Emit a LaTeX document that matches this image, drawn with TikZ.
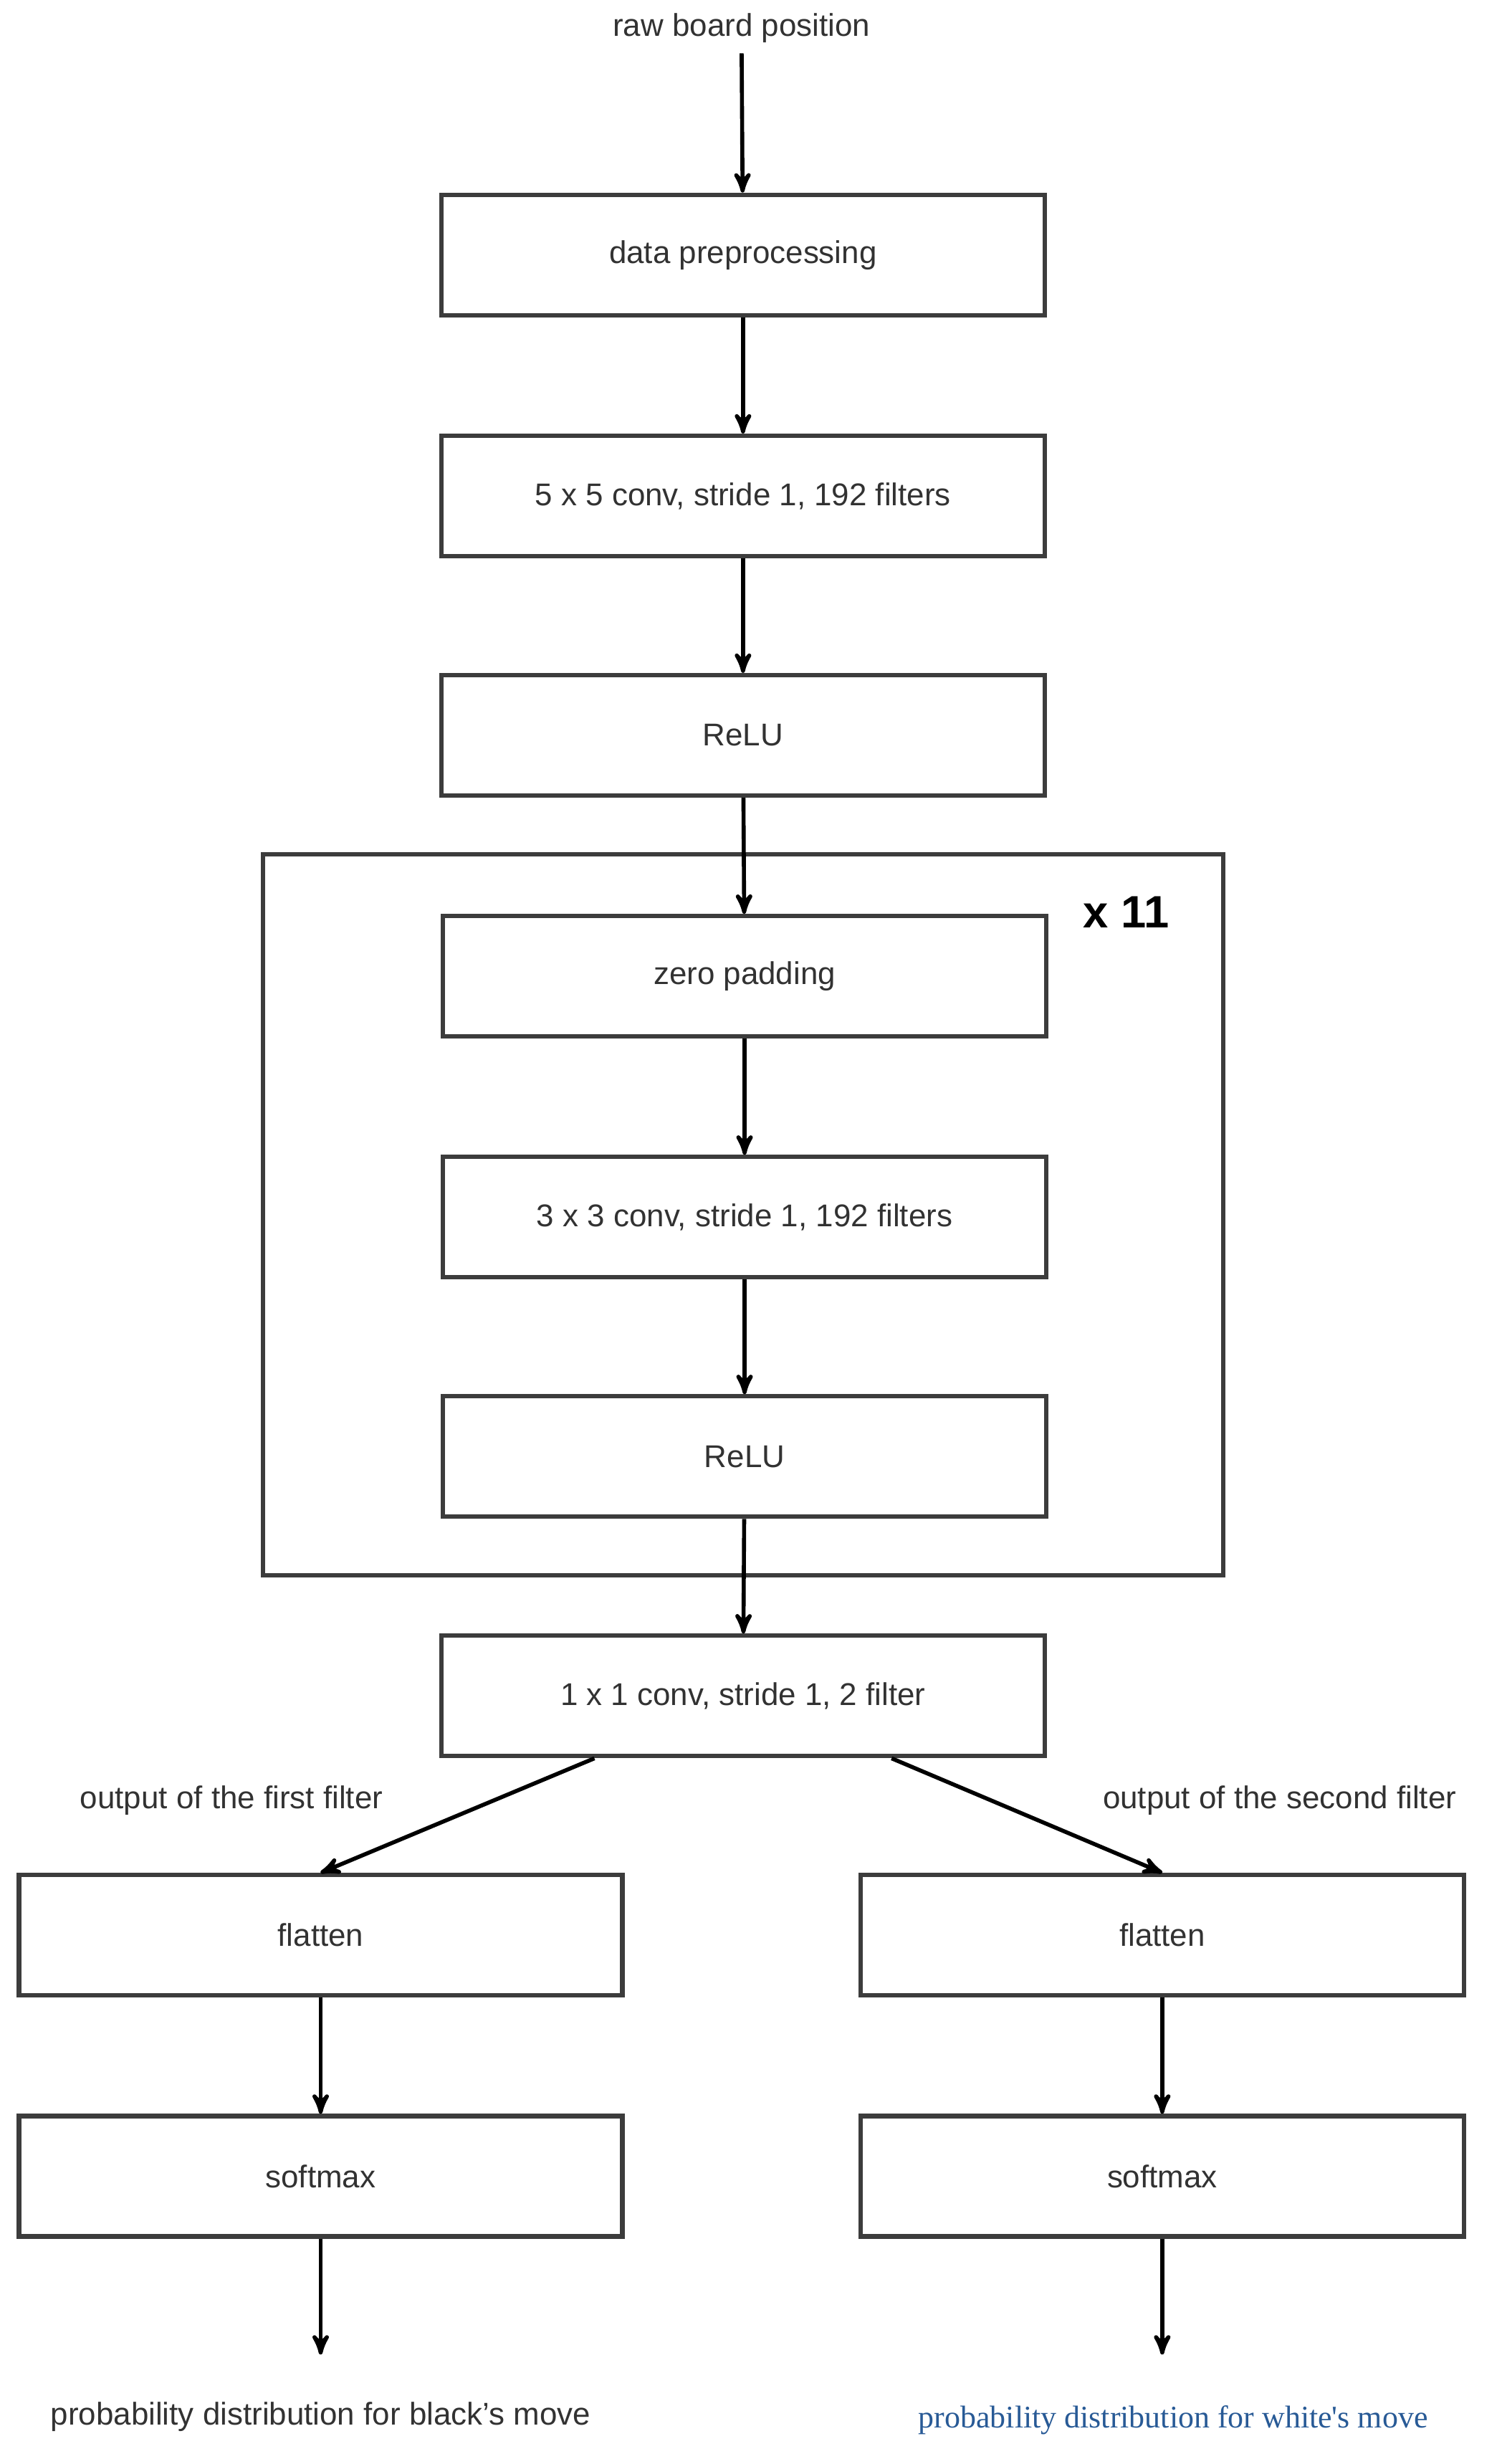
\documentclass[tikz,border=0pt]{standalone}
\usepackage{fontspec}
\setmainfont{Liberation Sans}
\newfontfamily\serifface{Liberation Serif}
\usetikzlibrary{arrows}
\definecolor{boxline}{RGB}{60,60,60}
\definecolor{txtgrey}{RGB}{50,50,50}
\definecolor{bluetxt}{RGB}{40,90,150}

\begin{document}
\begin{tikzpicture}[x=0.02183cm,y=-0.02183cm,->,>=stealth',line width=1.6pt,
    font=\fontsize{12.5}{15}\selectfont]
        \tikzstyle{layer}=[draw=boxline,line width=1.8pt,minimum width=8.42cm,minimum height=1.68cm,text=txtgrey]
        \tikzstyle{lbl}=[text=txtgrey]
        \useasboundingbox (0,0) rectangle (960,1575);

        \node[lbl]   (input)  at (474,18)   {raw board position};
        \node[layer] (prep)   at (475,163)  {data preprocessing};
        \node[layer] (conv5)  at (475,317)  {5 x 5 conv, stride 1, 192 filters};
        \node[layer] (relu1)  at (475,470)  {ReLU};
        \draw[-,line width=1.8pt,draw=boxline] (168,546) rectangle (782,1007);
        \node[font=\fontsize{18}{20}\selectfont\bfseries] (rep) at (720,583) {x 11};
        \node[layer] (zpad)   at (476,624)  {zero padding};
        \node[layer] (conv3)  at (476,778)  {3 x 3 conv, stride 1, 192 filters};
        \node[layer] (relu2)  at (476,931)  {ReLU};
        \node[layer] (conv1)  at (475,1084) {1 x 1 conv, stride 1, 2 filter};
        \node[lbl]   (outA)   at (148,1151) {output of the first filter};
        \node[lbl]   (outB)   at (818,1151) {output of the second filter};
        \node[layer] (flatA)  at (205,1237) {flatten};
        \node[layer] (flatB)  at (743,1237) {flatten};
        \node[layer] (softA)  at (205,1391) {softmax};
        \node[layer] (softB)  at (743,1391) {softmax};
        \coordinate  (endA)   at (205,1505);
        \coordinate  (endB)   at (743,1505);
        \node[lbl]   (probA)  at (205,1545) {probability distribution for black's move};
        \node[text=bluetxt,font=\serifface\fontsize{12.5}{15}\selectfont] (probB) at (750,1547) {probability distribution for white's move};

    \path   (input) edge (prep)
            (prep)  edge (conv5)
            (conv5) edge (relu1)
            (relu1) edge (zpad)
            (zpad)  edge (conv3)
            (conv3) edge (relu2)
            (relu2) edge (conv1)
            (conv1.south) ++(-95,0) edge (flatA.north)
            (conv1.south) ++(95,0)  edge (flatB.north)
            (flatA) edge (softA)
            (flatB) edge (softB)
            (softA) edge (endA)
            (softB) edge (endB);
\end{tikzpicture}
\end{document}
